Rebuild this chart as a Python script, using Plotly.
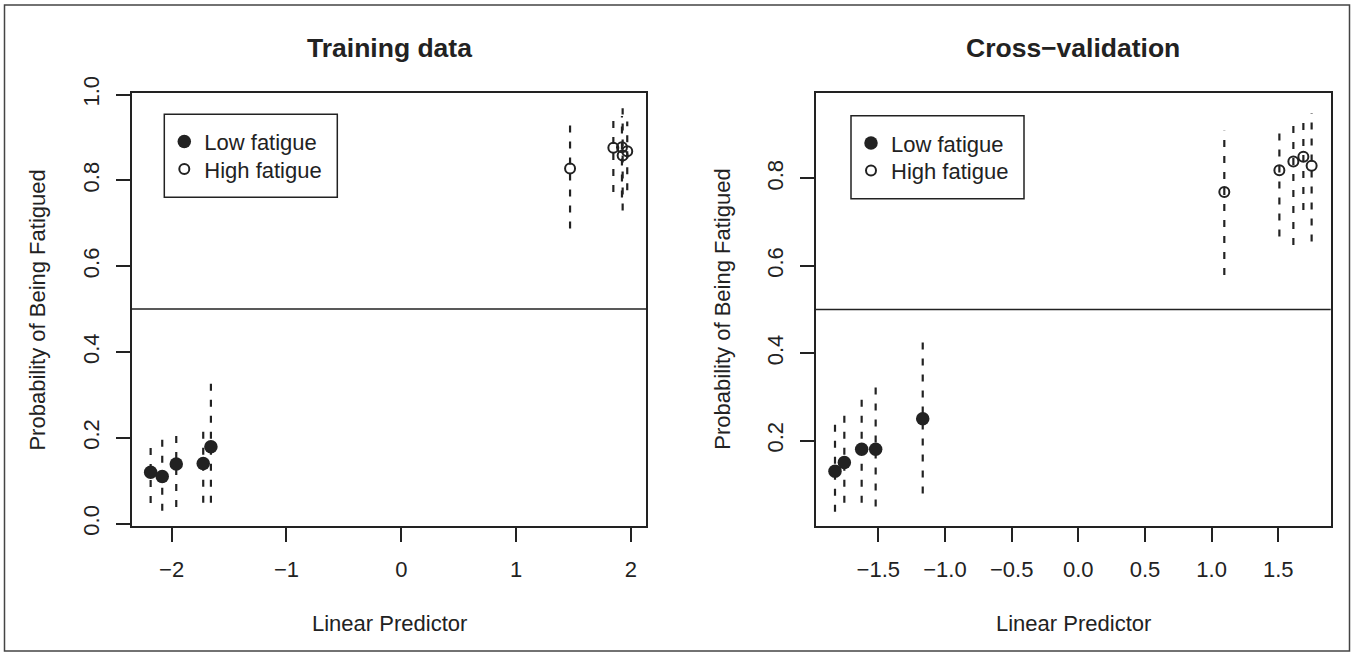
import plotly.graph_objects as go

W, H = 1353, 656

# ---------------- data ----------------
# Training data
train_low_x = [-2.183, -2.082, -1.960, -1.725, -1.658]
train_low_p = [0.120, 0.110, 0.139, 0.140, 0.179]
train_low_lo = [0.048, 0.030, 0.039, 0.049, 0.049]
train_low_hi = [0.188, 0.201, 0.216, 0.226, 0.341]

train_high_x = [1.470, 1.847, 1.922, 1.928, 1.968]
train_high_p = [0.828, 0.876, 0.877, 0.858, 0.868]
train_high_lo = [0.688, 0.773, 0.760, 0.730, 0.777]
train_high_hi = [0.942, 0.940, 0.950, 0.968, 0.937]

# Cross-validation
cv_low_x = [-1.825, -1.755, -1.625, -1.520, -1.167]
cv_low_p = [0.130, 0.150, 0.180, 0.180, 0.250]
cv_low_lo = [0.037, 0.058, 0.058, 0.049, 0.079]
cv_low_hi = [0.251, 0.272, 0.314, 0.340, 0.442]

cv_high_x = [1.095, 1.508, 1.613, 1.688, 1.750]
cv_high_p = [0.769, 0.819, 0.839, 0.850, 0.829]
cv_high_lo = [0.579, 0.667, 0.648, 0.728, 0.656]
cv_high_hi = [0.909, 0.921, 0.940, 0.940, 0.950]

train_xticks = [-2, -1, 0, 1, 2]
train_yticks = [0.0, 0.2, 0.4, 0.6, 0.8, 1.0]
cv_xticks = [-1.5, -1.0, -0.5, 0.0, 0.5, 1.0, 1.5]
cv_yticks = [0.2, 0.4, 0.6, 0.8]

threshold = 0.5

# ---------------- style ----------------
INK = "#222222"
FONT = "Liberation Sans, Arial, Helvetica, sans-serif"
FS = 22


def px_x(p):
    return p / W


def px_y(p):
    return 1 - p / H


def ci_segments(xs, lo, hi):
    sx, sy = [], []
    for x, a, b in zip(xs, lo, hi):
        sx += [x, x, None]
        sy += [a, b, None]
    return sx, sy


fig = go.Figure()

panels = [
    ("x", "y", ("legend", "legend2"), train_low_x, train_low_p, train_low_lo, train_low_hi,
     train_high_x, train_high_p, train_high_lo, train_high_hi),
    ("x2", "y2", ("legend3", "legend4"), cv_low_x, cv_low_p, cv_low_lo, cv_low_hi,
     cv_high_x, cv_high_p, cv_high_lo, cv_high_hi),
]

for xa, ya, lgs, lx, lp, llo, lhi, hx, hp, hlo, hhi in panels:
    for xs, lo, hi in ((lx, llo, lhi), (hx, hlo, hhi)):
        sx, sy = ci_segments(xs, lo, hi)
        fig.add_trace(go.Scatter(
            x=sx, y=sy, mode="lines", xaxis=xa, yaxis=ya,
            line=dict(color=INK, width=2.2, dash="7px,9px"),
            showlegend=False, hoverinfo="skip"))
    fig.add_trace(go.Scatter(
        x=lx, y=lp, mode="markers", xaxis=xa, yaxis=ya, name="Low fatigue",
        legend=lgs[0],
        marker=dict(symbol="circle", size=13.5, color=INK)))
    fig.add_trace(go.Scatter(
        x=hx, y=hp, mode="markers", xaxis=xa, yaxis=ya, name="High fatigue",
        legend=lgs[1],
        marker=dict(symbol="circle-open", size=10, color=INK,
                    line=dict(width=2, color=INK))))

# plot-box pixel geometry (page pixels)
L1, R1 = 131.7, 646.3
L2, R2 = 815.8, 1330.7
TOP, BOT = 93.3, 525.8

axis_common = dict(
    showgrid=False, zeroline=False, showline=True, mirror=True,
    linecolor=INK, linewidth=1.5, ticks="outside", ticklen=14,
    tickwidth=1.5, tickcolor=INK,
    tickfont=dict(family=FONT, size=FS, color=INK),
)

fig.update_layout(
    width=W, height=H,
    margin=dict(l=0, r=0, t=0, b=0, autoexpand=False),
    paper_bgcolor="white", plot_bgcolor="white",
    font=dict(family=FONT, size=FS, color=INK),
    xaxis=dict(domain=[px_x(L1), px_x(R1)], range=[-2.348, 2.134],
               tickvals=train_xticks, anchor="y", ticklabelstandoff=9,
               **axis_common),
    yaxis=dict(domain=[px_y(BOT), px_y(TOP)], range=[-0.005, 1.003],
               tickvals=train_yticks, tickformat=".1f", tickangle=-90,
               anchor="x", ticklabelstandoff=8, **axis_common),
    xaxis2=dict(domain=[px_x(L2), px_x(R2)], range=[-1.969, 1.893],
                tickvals=cv_xticks, tickformat=".1f", anchor="y2",
                ticklabelstandoff=9, **axis_common),
    yaxis2=dict(domain=[px_y(BOT), px_y(TOP)], range=[0.005, 0.995],
                tickvals=cv_yticks, tickformat=".1f", tickangle=-90,
                anchor="x2", ticklabelstandoff=8, **axis_common),
)

leg_common = dict(
    xanchor="left", yanchor="top", bgcolor="rgba(0,0,0,0)", borderwidth=0,
    font=dict(family=FONT, size=FS, color=INK),
)
LEG_W, LEG_H = 173, 83
leg_boxes = [(164.3, 114.3), (851.0, 115.7)]
ROW1, ROW2 = 28.0, 55.5      # row centres below box top
ITEM_OFF = 21.5              # legend top -> first item centre
fig.update_layout(
    legend=dict(x=px_x(leg_boxes[0][0]), y=px_y(leg_boxes[0][1] + ROW1 - ITEM_OFF), **leg_common),
    legend2=dict(x=px_x(leg_boxes[0][0]), y=px_y(leg_boxes[0][1] + ROW2 - ITEM_OFF), **leg_common),
    legend3=dict(x=px_x(leg_boxes[1][0]), y=px_y(leg_boxes[1][1] + ROW1 - ITEM_OFF), **leg_common),
    legend4=dict(x=px_x(leg_boxes[1][0]), y=px_y(leg_boxes[1][1] + ROW2 - ITEM_OFF), **leg_common),
)

shapes = []
for lx0, ly0 in leg_boxes:
    shapes.append(dict(type="rect", xref="paper", yref="paper",
                       x0=px_x(lx0), x1=px_x(lx0 + LEG_W),
                       y0=px_y(ly0 + LEG_H), y1=px_y(ly0),
                       line=dict(color=INK, width=1.5)))
for xa, ya in (("x", "y"), ("x2", "y2")):
    shapes.append(dict(type="line", xref=f"{xa} domain", yref=ya,
                       x0=0, x1=1, y0=threshold, y1=threshold,
                       line=dict(color=INK, width=1.5)))
shapes.append(dict(type="rect", xref="paper", yref="paper",
                   x0=px_x(4.5), x1=px_x(1349.5), y0=px_y(651), y1=px_y(5),
                   line=dict(color="#444444", width=1.5)))
fig.update_layout(shapes=shapes)

ann = []
for title, l, r in (("Training data", L1, R1), ("Cross\u2212validation", L2, R2)):
    cx = (l + r) / 2
    ann.append(dict(text=f"<b>{title}</b>", xref="paper", yref="paper",
                    x=px_x(cx), y=px_y(48), xanchor="center", yanchor="middle",
                    showarrow=False, font=dict(family=FONT, size=26.5, color=INK)))
    ann.append(dict(text="Linear Predictor", xref="paper", yref="paper",
                    x=px_x(cx), y=px_y(623.7), xanchor="center", yanchor="middle",
                    showarrow=False, font=dict(family=FONT, size=FS, color=INK)))
    ann.append(dict(text="Probability of Being Fatigued", xref="paper", yref="paper",
                    x=px_x(l - 93.7), y=px_y((TOP + BOT) / 2), xanchor="center",
                    yanchor="middle", textangle=-90, showarrow=False,
                    font=dict(family=FONT, size=FS, color=INK)))
fig.update_layout(annotations=ann)

fig.write_html(
    "out.html",
    config={"displayModeBar": False},
    post_script="document.body.style.margin='0';document.body.style.overflow='hidden';",
)
